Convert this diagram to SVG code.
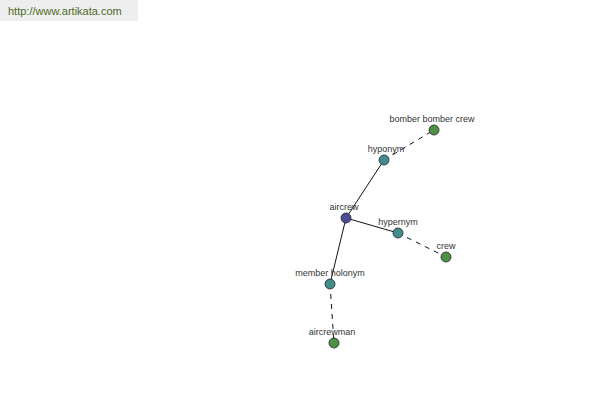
<svg xmlns="http://www.w3.org/2000/svg" width="600" height="400" viewBox="0 0 600 400">
<style>
.lbl{font-family:"Liberation Sans",Arial,sans-serif;font-size:9px;fill:#333;text-anchor:middle}
.n{stroke:#222;stroke-width:0.8}
.root{fill:#4b4d99}
.mid{fill:#3f8e8c}
.leaf{fill:#4e9146}
.e{stroke:#111;stroke-width:1;fill:none}
.d{stroke-dasharray:5,5}
</style>
<rect width="600" height="400" fill="#fff"/>
<rect x="0" y="0" width="138" height="21" fill="#eeeeee"/>
<text x="8" y="15" font-family="'Liberation Sans',Arial,sans-serif" font-size="11" fill="#4d6b1e">http://www.artikata.com</text>
<g id="connectors">
<line class="e" x1="346" y1="218" x2="384" y2="160"/>
<line class="e" x1="346" y1="218" x2="398" y2="233"/>
<line class="e" x1="346" y1="218" x2="330" y2="284"/>
<line class="e d" x1="384" y1="160" x2="434" y2="130"/>
<line class="e d" x1="398" y1="233" x2="446" y2="257"/>
<line class="e d" x1="330" y1="284" x2="334" y2="343"/>
</g>
<g id="aircrew"><circle class="n root" cx="346" cy="218" r="5"/><text class="lbl" x="344" y="210">aircrew</text></g>
<g id="hyponym"><circle class="n mid" cx="384" cy="160" r="5"/><text class="lbl" x="386" y="152">hyponym</text></g>
<g id="bomber"><circle class="n leaf" cx="434" cy="130" r="5"/><text class="lbl" x="432" y="122">bomber bomber crew</text></g>
<g id="hypernym"><circle class="n mid" cx="398" cy="233" r="5"/><text class="lbl" x="398" y="225">hypernym</text></g>
<g id="crew"><circle class="n leaf" cx="446" cy="257" r="5"/><text class="lbl" x="446" y="249">crew</text></g>
<g id="member-holonym"><circle class="n mid" cx="330" cy="284" r="5"/><text class="lbl" x="330" y="276">member holonym</text></g>
<g id="aircrewman"><circle class="n leaf" cx="334" cy="343" r="5"/><text class="lbl" x="332" y="335">aircrewman</text></g>
</svg>
